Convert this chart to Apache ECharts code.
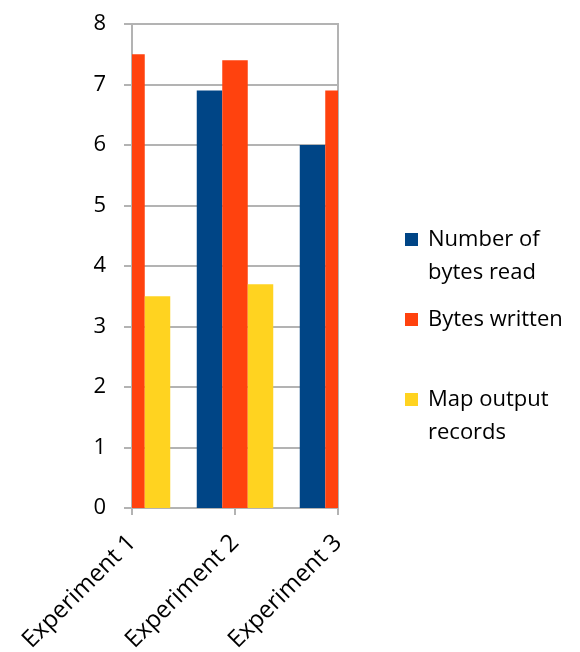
<!DOCTYPE html>
<html>
<head>
<meta charset="utf-8">
<script src="https://cdn.jsdelivr.net/npm/echarts@6/dist/echarts.min.js"></script>
<style>
  html, body { margin: 0; padding: 0; background: #ffffff; }
  #chart { width: 580px; height: 652px; }
</style>
</head>
<body>
<div id="chart"></div>
<script>
const categories = ['Experiment 1', 'Experiment 2', 'Experiment 3'];
const bytesRead = [null, 6.9, 6.0];
const bytesWritten = [7.5, 7.4, 6.9];
const mapOutputRecords = [3.5, 3.7, null];
const yTicks = [0, 1, 2, 3, 4, 5, 6, 7, 8];
const seriesNames = ['Number of bytes read', 'Bytes written', 'Map output records'];
const legendLabels = {
  'Number of bytes read': '\nNumber of\nbytes read',
  'Bytes written': 'Bytes written',
  'Map output records': '\nMap output\nrecords'
};

const FONT = '"Open Sans", sans-serif';
const GRID = '#b3b3b3';
const COLORS = ['#004586', '#ff420e', '#ffd320'];
const BAR_W = 25.5;

function toPairs(values) {
  const out = [];
  values.forEach((v, i) => { if (v !== null) out.push([i, v]); });
  return out;
}

function makeSeries(idx, values) {
  const offset = (idx - 1) * BAR_W - BAR_W / 2;
  return {
    name: seriesNames[idx],
    type: 'custom',
    clip: true,
    data: toPairs(values),
    encode: { x: 0, y: 1 },
    itemStyle: { color: COLORS[idx] },
    renderItem: function (params, api) {
      const base = api.coord([api.value(0), 0]);
      const top = api.coord([api.value(0), api.value(1)]);
      return {
        type: 'rect',
        shape: { x: base[0] + offset, y: top[1], width: BAR_W, height: base[1] - top[1] },
        style: { fill: COLORS[idx] }
      };
    }
  };
}

const chart = echarts.init(document.getElementById('chart'), null, { renderer: 'canvas' });

chart.setOption({
  animation: false,
  backgroundColor: '#ffffff',
  grid: {
    left: 132, right: 242, top: 24, bottom: 144,
    containLabel: false,
    outerBoundsMode: 'none',
    show: true, borderColor: GRID, borderWidth: 2, backgroundColor: 'transparent'
  },
  legend: {
    orient: 'vertical',
    left: 405,
    top: 190,
    padding: 0,
    itemWidth: 13,
    itemHeight: 13,
    itemGap: 14,
    icon: 'rect',
    data: seriesNames,
    formatter: name => legendLabels[name],
    textStyle: { fontFamily: FONT, fontSize: 22, lineHeight: 33, color: '#000', padding: [0, 0, 0, 5] }
  },
  xAxis: {
    type: 'category',
    data: categories,
    boundaryGap: false,
    axisLine: { lineStyle: { color: GRID, width: 2 } },
    axisTick: { show: true, length: 7, lineStyle: { color: GRID, width: 2 } },
    axisLabel: { rotate: 45, margin: 31, fontFamily: FONT, fontSize: 24, color: '#000', interval: 0 },
    splitLine: { show: false }
  },
  yAxis: {
    type: 'value',
    min: yTicks[0],
    max: yTicks[yTicks.length - 1],
    interval: 1,
    axisLine: { show: true, lineStyle: { color: GRID, width: 2 } },
    axisTick: { show: true, length: 8, lineStyle: { color: GRID, width: 2 } },
    axisLabel: { margin: 26, fontFamily: FONT, fontSize: 22, color: '#000' },
    splitLine: { show: true, lineStyle: { color: GRID, width: 2 } }
  },
  series: [
    makeSeries(0, bytesRead),
    makeSeries(1, bytesWritten),
    makeSeries(2, mapOutputRecords)
  ]
});
</script>
</body>
</html>
